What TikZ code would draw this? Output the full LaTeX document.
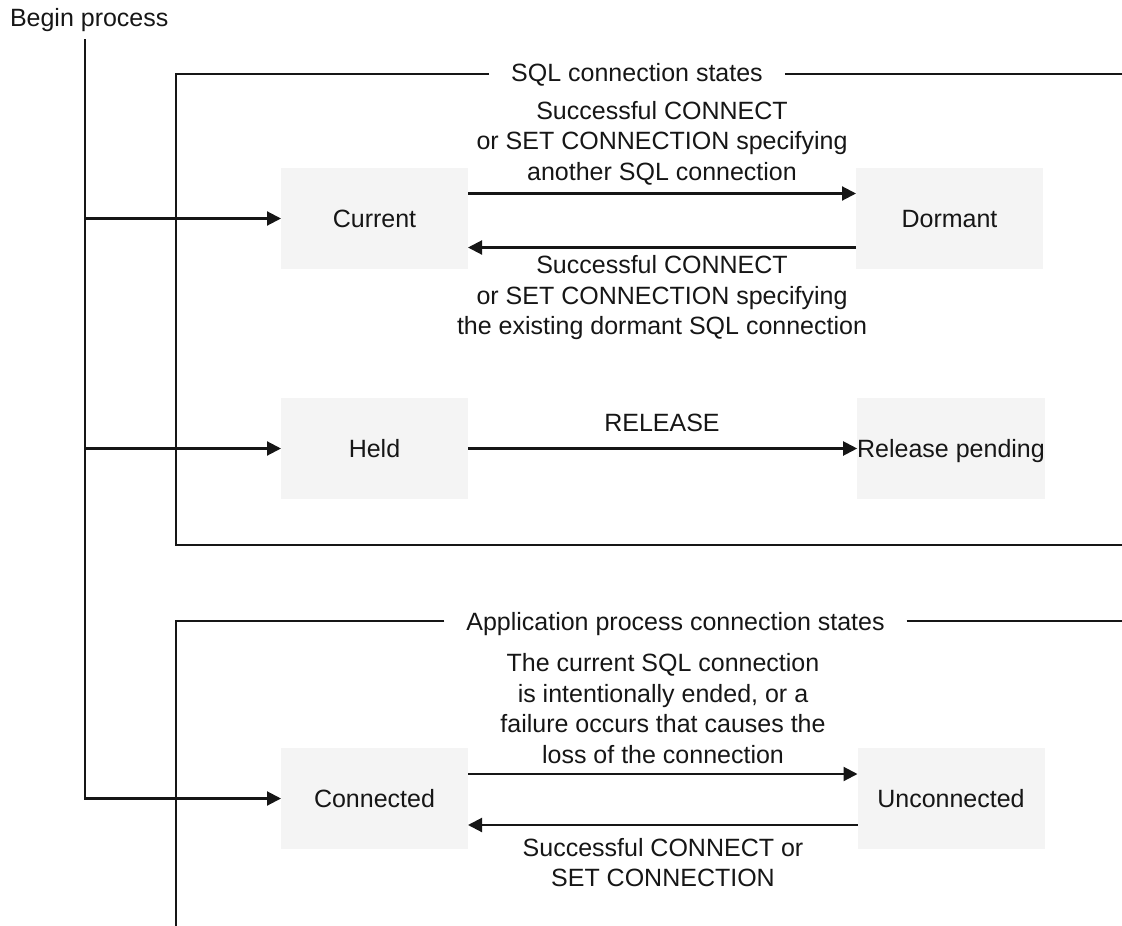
\documentclass[tikz,border=0pt]{standalone}
\usepackage{fontspec}
\setmainfont{Liberation Sans}
\usetikzlibrary{arrows.meta}
\definecolor{ink}{HTML}{161616}
\definecolor{boxfill}{HTML}{F4F4F4}
\begin{document}
\begin{tikzpicture}[x=1pt,y=-1pt,
  every node/.style={font=\fontsize{25}{30.5}\selectfont, text=ink, inner sep=0pt, outer sep=0pt},
  state/.style={fill=boxfill, minimum width=187pt, minimum height=101pt, text height=18pt, text depth=0pt},
  conn/.style={draw=ink, line width=2.1pt},
  arr/.style={conn, -{Triangle[length=14pt,width=14pt]}},
  captxt/.style={align=center},
  title/.style={inner xsep=22pt, anchor=base}]
\useasboundingbox (0,0) rectangle (1122,926);

% frames
\coordinate (f1tl) at (176,74);
\coordinate (f1bl) at (176,545);
\coordinate (f1br) at (1122,545);
\coordinate (f1tr) at (1122,74);
\coordinate (f2tl) at (176,621);
\coordinate (f2bl) at (176,926);
\coordinate (f2tr) at (1122,621);
\node[title] (t1) at (637,81) {SQL connection states};
\node[title] (t2) at (675.5,630) {Application process connection states};
\draw[conn] (t1.west |- f1tl) -- (f1tl) -- (f1bl) -- (f1br);
\draw[conn] (t1.east |- f1tl) -- (f1tr);
\draw[conn] (t2.west |- f2tl) -- (f2tl) -- (f2bl);
\draw[conn] (t2.east |- f2tl) -- (f2tr);

% begin
\node[anchor=base west] (begin) at (10,27) {Begin process};
\coordinate (top) at (85,39);

% states
\node[state] (cur) at (374.5,218.5) {Current};
\node[state] (dor) at (949.5,218.5) {Dormant};
\node[state] (held) at (374.5,448.5) {Held};
\node[state] (rel) at (951,448.5) {Release pending};
\node[state] (con) at (374.5,798.5) {Connected};
\node[state] (unc) at (951,798.5) {Unconnected};

% entry
\draw[arr] (top) -- (top |- con.west) -- (con.west);
\draw[arr] (top |- cur.west) -- (cur.west);
\draw[arr] (top |- held.west) -- (held.west);

% transitions
\draw[arr] ([yshift=25pt]cur.east) -- ([yshift=25pt]cur.east -| dor.west);
\draw[arr] ([yshift=-29pt]dor.west) -- ([yshift=-29pt]dor.west -| cur.east);
\draw[arr] (held.east) -- (rel.west);
\draw[arr] ([yshift=24.5pt]con.east) -- ([yshift=24.5pt]con.east -| unc.west);
\draw[arr] ([yshift=-26.5pt]unc.west) -- ([yshift=-26.5pt]unc.west -| con.east);

% captions
\node[captxt] (c1) at (662,143) {Successful CONNECT\\or SET CONNECTION specifying\\another SQL connection};
\node[captxt] (c2) at (662,298) {Successful CONNECT\\or SET CONNECTION specifying\\the existing dormant SQL connection};
\node[anchor=base] (c3) at (662,431) {RELEASE};
\node[captxt] (c4) at (663,708.5) {The current SQL connection\\is intentionally ended, or a\\failure occurs that causes the\\loss of the connection};
\node[captxt] (c5) at (663,862.5) {Successful CONNECT or\\SET CONNECTION};
\end{tikzpicture}
\end{document}
